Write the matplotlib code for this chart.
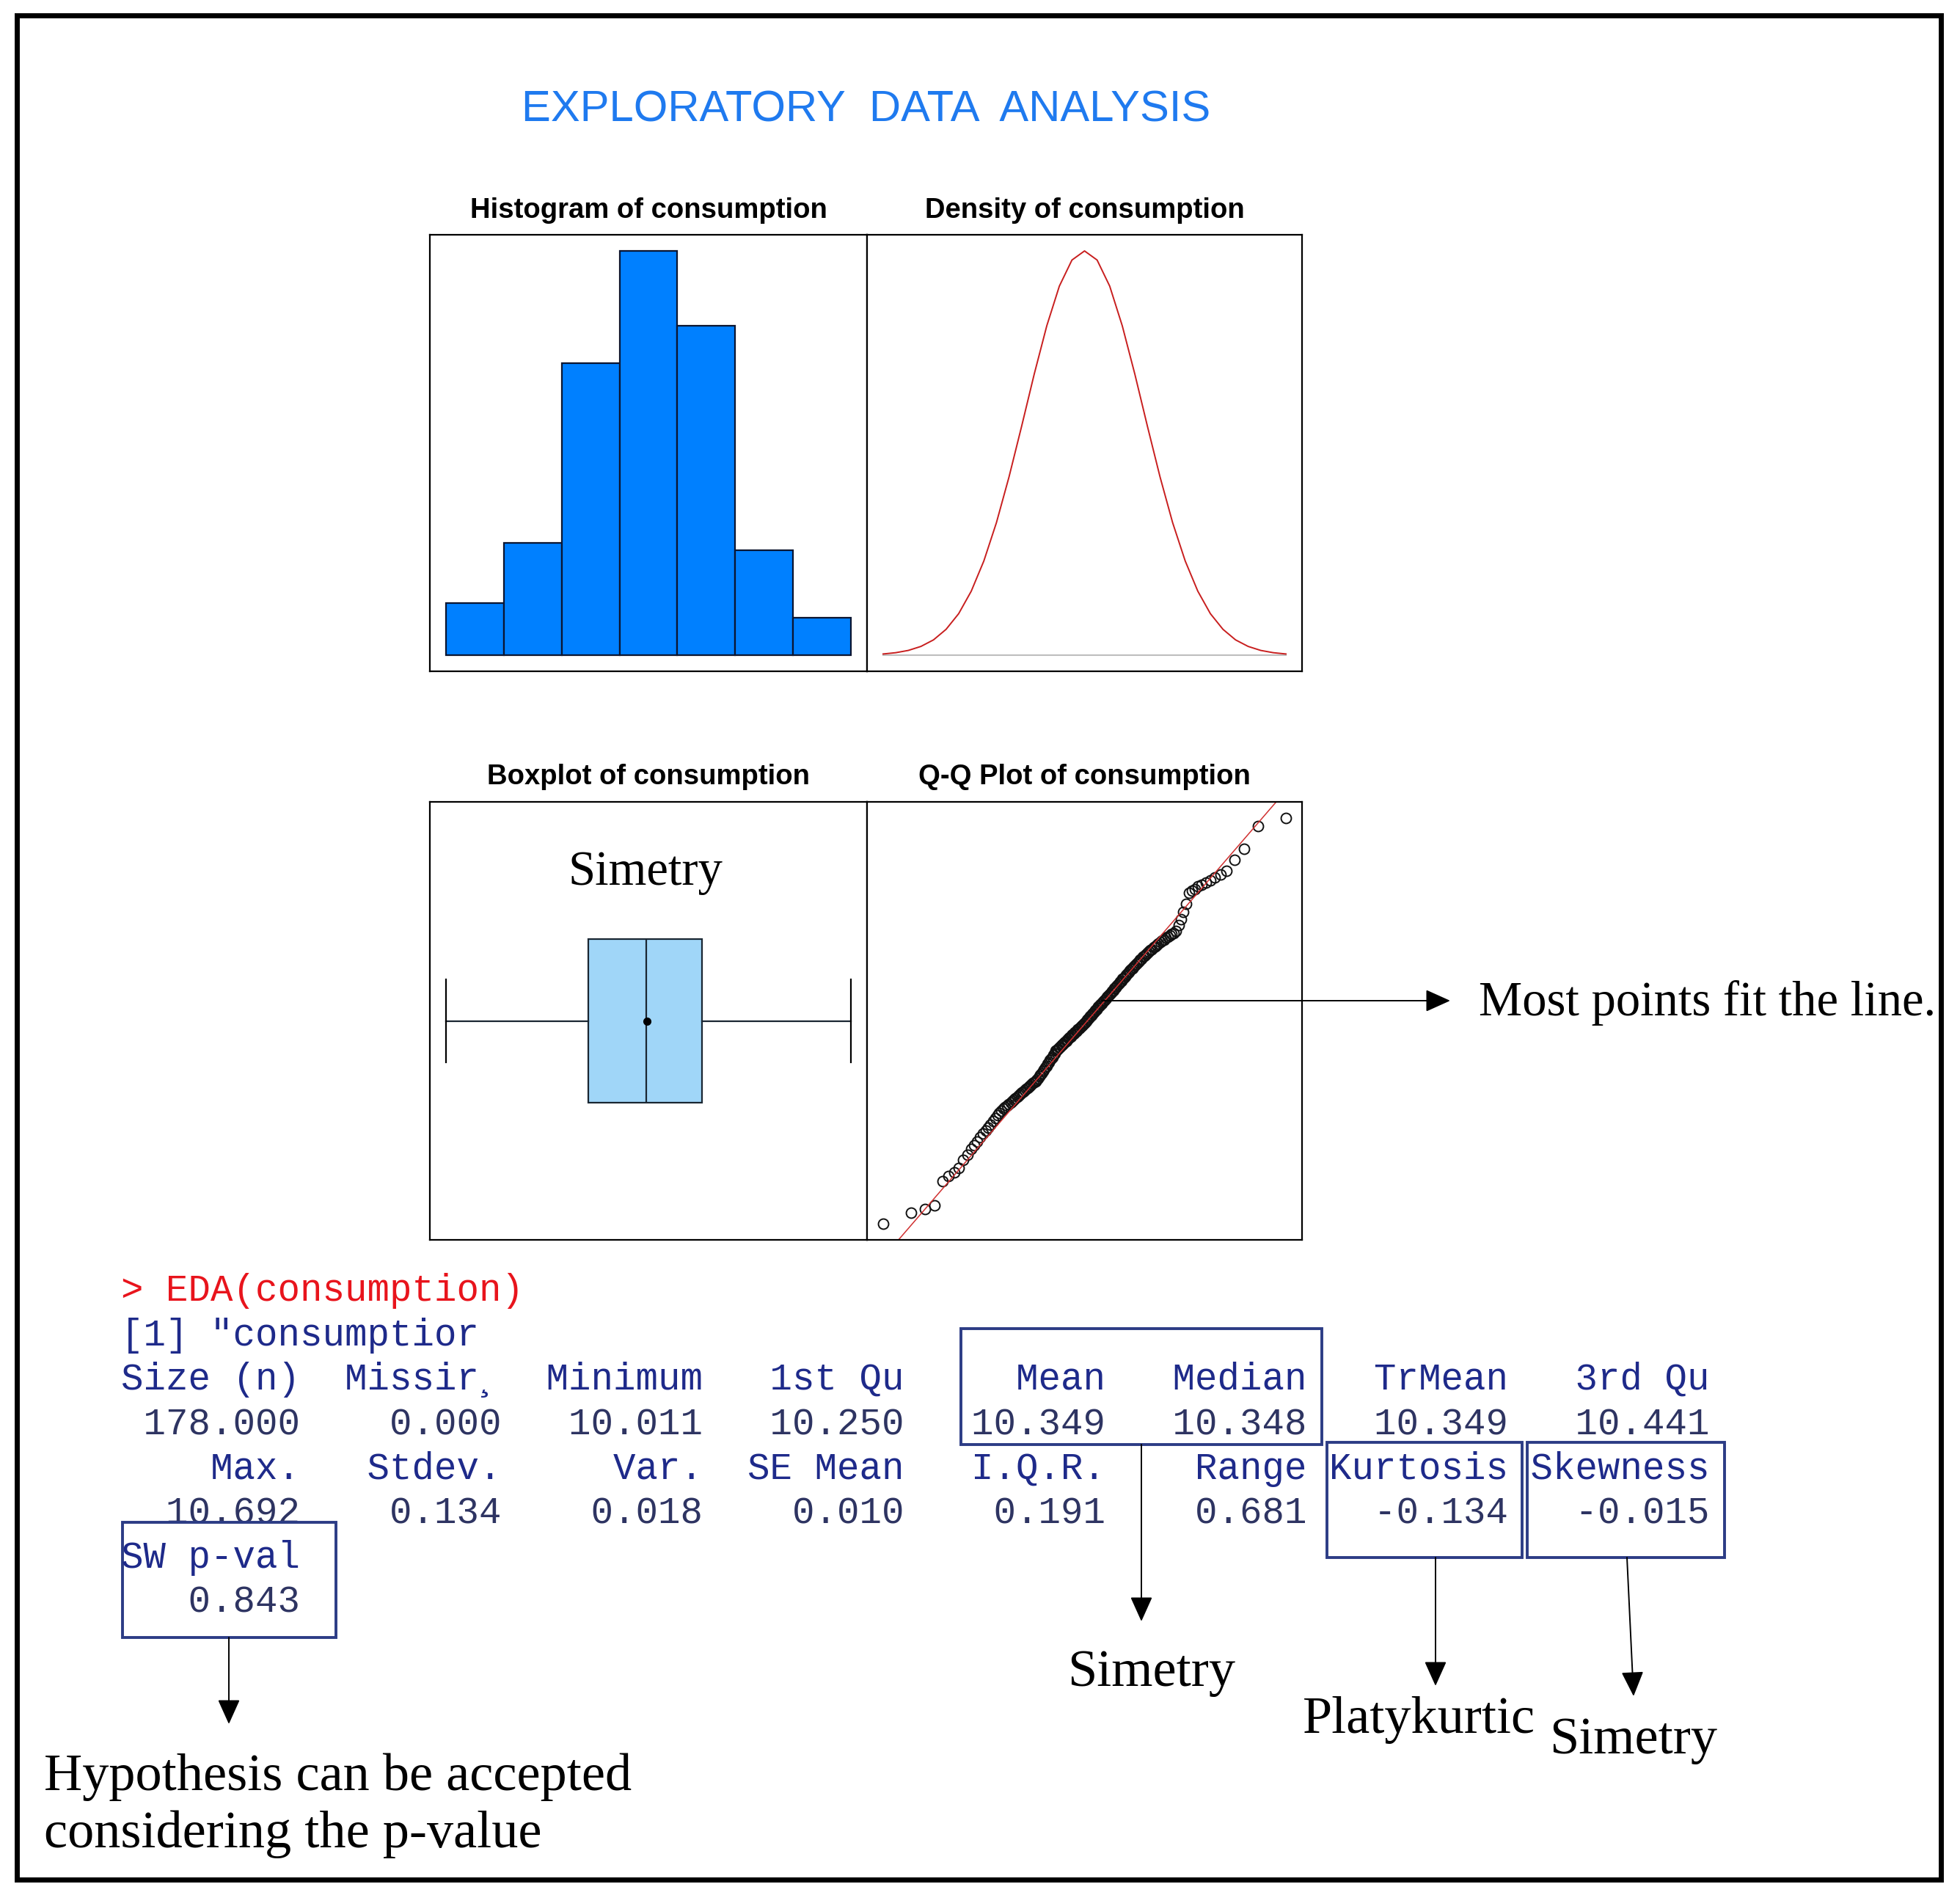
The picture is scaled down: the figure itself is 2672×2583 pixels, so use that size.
import numpy as np
import matplotlib
matplotlib.use("Agg")
import matplotlib.pyplot as plt
from matplotlib.patches import Rectangle
from statistics import NormalDist

# ---------------- data ----------------
main_title = "EXPLORATORY  DATA  ANALYSIS"
panel_titles = ["Histogram of consumption", "Density of consumption",
                "Boxplot of consumption", "Q-Q Plot of consumption"]

consumption = [
    10.011, 10.029, 10.036, 10.042, 10.082, 10.091, 10.097,
    10.104, 10.118, 10.127, 10.136, 10.143, 10.149, 10.156, 10.162, 10.167, 10.172,
    10.177, 10.183, 10.188, 10.193, 10.197,
    10.201, 10.204, 10.207, 10.209, 10.212, 10.214, 10.217, 10.219, 10.222, 10.224,
    10.226, 10.229, 10.231, 10.233, 10.235, 10.237, 10.239, 10.241, 10.243, 10.245,
    10.247, 10.249, 10.250, 10.252, 10.255, 10.258, 10.261, 10.264, 10.267, 10.270,
    10.273, 10.276, 10.279, 10.282, 10.285, 10.288, 10.291, 10.294, 10.297,
    10.301, 10.303, 10.304, 10.306, 10.308, 10.310, 10.311, 10.313, 10.315, 10.317,
    10.318, 10.320, 10.322, 10.324, 10.325, 10.327, 10.329, 10.330, 10.332, 10.334,
    10.335, 10.337, 10.339, 10.340, 10.342, 10.344, 10.345, 10.347, 10.349, 10.351,
    10.353, 10.355, 10.357, 10.359, 10.361, 10.363, 10.365, 10.367, 10.369, 10.371,
    10.373, 10.375, 10.377, 10.379, 10.381, 10.383, 10.385, 10.387, 10.389, 10.391,
    10.393, 10.395, 10.397, 10.399,
    10.401, 10.403, 10.406, 10.408, 10.410, 10.413, 10.415, 10.417, 10.419, 10.422,
    10.424, 10.426, 10.429, 10.431, 10.433, 10.436, 10.438, 10.440, 10.442, 10.445,
    10.447, 10.449, 10.452, 10.454, 10.456, 10.459, 10.461, 10.463, 10.465, 10.468,
    10.470, 10.472, 10.475, 10.477, 10.479, 10.482, 10.484, 10.486, 10.488, 10.491,
    10.493, 10.495, 10.497, 10.499,
    10.503, 10.512, 10.522, 10.535, 10.548, 10.566, 10.570, 10.573, 10.577, 10.580,
    10.584, 10.588, 10.592, 10.597,
    10.604, 10.622, 10.641, 10.678, 10.692,
]
hist_breaks = [10.0, 10.1, 10.2, 10.3, 10.4, 10.5, 10.6, 10.7]

# density curve
dens_x = [9.87, 9.90, 9.93, 9.96, 9.99, 10.02, 10.05, 10.08, 10.11, 10.14, 10.17,
          10.20, 10.23, 10.26, 10.29, 10.32, 10.35, 10.38, 10.41, 10.44, 10.47, 10.50,
          10.53, 10.56, 10.59, 10.62, 10.65, 10.68, 10.71, 10.74, 10.77, 10.80, 10.83]
dens_y = [0.008, 0.017, 0.033, 0.061, 0.107, 0.181, 0.291, 0.449, 0.661, 0.930, 1.251,
          1.606, 1.972, 2.312, 2.591, 2.774, 2.838, 2.774, 2.591, 2.312, 1.972, 1.606,
          1.251, 0.930, 0.661, 0.449, 0.291, 0.181, 0.107, 0.061, 0.033, 0.017, 0.008]

# console output text
cmd_line = "> EDA(consumption)"
echo_line = '[1] "consumptior'
row1_names = ["Size (n)", "Missir\u00b8", "Minimum", "1st Qu", "Mean", "Median", "TrMean", "3rd Qu"]
row1_vals = ["178.000", "0.000", "10.011", "10.250", "10.349", "10.348", "10.349", "10.441"]
row2_names = ["Max.", "Stdev.", "Var.", "SE Mean", "I.Q.R.", "Range", "Kurtosis", "Skewness"]
row2_vals = ["10.692", "0.134", "0.018", "0.010", "0.191", "0.681", "-0.134", "-0.015"]
row3_names = ["SW p-val"]
row3_vals = ["0.843"]

note_qq = "Most points fit the line."
note_box = "Simetry"
note_mean = "Simetry"
note_kurt = "Platykurtic"
note_skew = "Simetry"
note_sw = ["Hypothesis can be accepted", "considering the p-value"]

# ---------------- figure ----------------
W, H = 2672, 2583
DPI = 100
fig = plt.figure(figsize=(W / DPI, H / DPI), dpi=DPI)
fig.patch.set_facecolor("white")


def rect(x0, y0, x1, y1):
    return [x0 / W, 1 - y1 / H, (x1 - x0) / W, (y1 - y0) / H]


def pad(lo, hi, f=0.04):
    r = hi - lo
    return lo - f * r, hi + f * r


SPINE_LW = 1.6


def style(ax):
    ax.set_xticks([])
    ax.set_yticks([])
    for s in ax.spines.values():
        s.set_linewidth(SPINE_LW)
        s.set_color("black")


x_left, x_mid, x_right = 586, 1182, 1775
ax_hist = fig.add_axes(rect(x_left, 320, x_mid, 915))
ax_dens = fig.add_axes(rect(x_mid, 320, x_right, 915))
ax_box = fig.add_axes(rect(x_left, 1093, x_mid, 1690))
ax_qq = fig.add_axes(rect(x_mid, 1093, x_right, 1690))

data = np.array(consumption)

# histogram
counts, _, _ = ax_hist.hist(data, bins=hist_breaks, color="#0080FF",
                            edgecolor="#0B1530", linewidth=1.6)
ax_hist.set_xlim(*pad(hist_breaks[0], hist_breaks[-1]))
ax_hist.set_ylim(*pad(0, counts.max()))
style(ax_hist)

# density
ax_dens.plot([dens_x[0], dens_x[-1]], [0, 0], color="#BEBEBE", lw=1.5)
ax_dens.plot(dens_x, dens_y, color="#C81E1E", lw=1.4)
ax_dens.set_xlim(*pad(min(dens_x), max(dens_x)))
ax_dens.set_ylim(*pad(0, max(dens_y)))
style(ax_dens)

# boxplot
ax_box.boxplot(data, vert=False, positions=[0.5], widths=0.372, capwidths=0.19,
               patch_artist=True, showmeans=True, showfliers=False,
               boxprops=dict(facecolor="#A0D6F8", edgecolor="#1A2632", linewidth=1.6),
               medianprops=dict(color="#1A2632", linewidth=1.6),
               whiskerprops=dict(color="#1A2632", linewidth=1.6),
               capprops=dict(color="black", linewidth=1.6),
               meanprops=dict(marker="o", markerfacecolor="black",
                              markeredgecolor="black", markersize=7))
ax_box.set_xlim(*pad(data.min(), data.max()))
ax_box.set_ylim(0, 1)
style(ax_box)

# Q-Q plot
n = len(data)
nd = NormalDist()
theo = np.array([nd.inv_cdf((i - 0.5) / n) for i in range(1, n + 1)])
ax_qq.plot(theo, np.sort(data), linestyle="none", marker="o", markersize=10,
           markerfacecolor="none", markeredgecolor="#111111", markeredgewidth=1.4)
q1, q3 = np.quantile(data, [0.25, 0.75])
ax_qq.axline((nd.inv_cdf(0.25), q1), (nd.inv_cdf(0.75), q3), color="#D03030", lw=1.1)
ax_qq.set_xlim(*pad(theo.min(), theo.max()))
ax_qq.set_ylim(*pad(data.min(), data.max()))
style(ax_qq)

# ---------------- overlay (pixel coordinates) ----------------
ov = fig.add_axes([0, 0, 1, 1], zorder=10)
ov.set_xlim(0, W)
ov.set_ylim(H, 0)
ov.axis("off")
ov.patch.set_alpha(0)

# outer frame
ov.add_patch(Rectangle((22.5, 20.5), 2645.5 - 22.5, 2561.5 - 20.5, fill=False,
                       edgecolor="black", lw=5.0, joinstyle="miter"))

ov.text(1181, 166, main_title, ha="center", va="baseline", color="#1F7AEF",
        fontsize=43, family="Liberation Sans")

tkw = dict(ha="center", va="baseline", fontsize=27.5, family="Liberation Sans",
           fontweight="bold", color="black")
ov.text((x_left + x_mid) / 2, 297, panel_titles[0], **tkw)
ov.text((x_mid + x_right) / 2, 297, panel_titles[1], **tkw)
ov.text((x_left + x_mid) / 2, 1069, panel_titles[2], **tkw)
ov.text((x_mid + x_right) / 2, 1069, panel_titles[3], **tkw)

serif = dict(family="Liberation Serif", color="black", va="baseline")
ov.text(880, 1206, note_box, ha="center", fontsize=48, **serif)
ov.text(2016, 1384, note_qq, ha="left", fontsize=48, **serif)
ov.text(1455, 2298, note_mean, ha="left", fontsize=52, **serif)
ov.text(1776, 2362, note_kurt, ha="left", fontsize=52, **serif)
ov.text(2112, 2390, note_skew, ha="left", fontsize=52, **serif)
ov.text(60, 2440, note_sw[0], ha="left", fontsize=52, **serif)
ov.text(60, 2518, note_sw[1], ha="left", fontsize=52, **serif)

# console text
mono = dict(family="Liberation Mono", fontsize=36.5, ha="left", va="baseline")
X0 = 165
base0, step = 1773, 60.7
NAME_C, VAL_C = "#1E2A8A", "#2E3462"


def fmt(items):
    return " ".join(s.rjust(8) for s in items)


ov.text(X0, base0, cmd_line, color="#E8141C", zorder=2, **mono)
ov.text(X0, base0 + step, echo_line, color=NAME_C, zorder=2, **mono)
ov.text(X0, base0 + 2 * step, fmt(row1_names), color=NAME_C, zorder=2, **mono)
ov.text(X0, base0 + 3 * step, fmt(row1_vals), color=VAL_C, zorder=2, **mono)
ov.text(X0, base0 + 4 * step, fmt(row2_names), color=NAME_C, zorder=2, **mono)
ov.text(X0, base0 + 5 * step, fmt(row2_vals), color=VAL_C, zorder=2, **mono)
ov.text(X0, base0 + 6 * step, fmt(row3_names), color=NAME_C, zorder=6, **mono)
ov.text(X0, base0 + 7 * step, fmt(row3_vals), color=VAL_C, zorder=6, **mono)

BOX_C = "#2C3C85"
for (bx0, by0, bx1, by1), fc in [((1310, 1811, 1802, 1969), "none"),
                                  ((1809, 1966, 2075, 2123), "none"),
                                  ((2082, 1966, 2351, 2123), "none"),
                                  ((167, 2075, 458, 2232), "white")]:
    ov.add_patch(Rectangle((bx0, by0), bx1 - bx0, by1 - by0, facecolor=fc,
                           edgecolor=BOX_C, lw=2.8, zorder=4))


def arrow(x0, y0, x1, y1):
    ov.annotate("", xy=(x1, y1), xytext=(x0, y0), zorder=7,
                arrowprops=dict(arrowstyle="-|>,head_length=1.0,head_width=0.45",
                                mutation_scale=21, lw=1.4, color="black",
                                shrinkA=0, shrinkB=0))


arrow(312, 2232, 312, 2350)
arrow(1556, 1969, 1556, 2210)
arrow(1957, 2123, 1957, 2298)
arrow(2218, 2123, 2227, 2312)
arrow(1502, 1364, 1977, 1364)

fig.savefig("out.png", dpi=DPI, facecolor="white")
